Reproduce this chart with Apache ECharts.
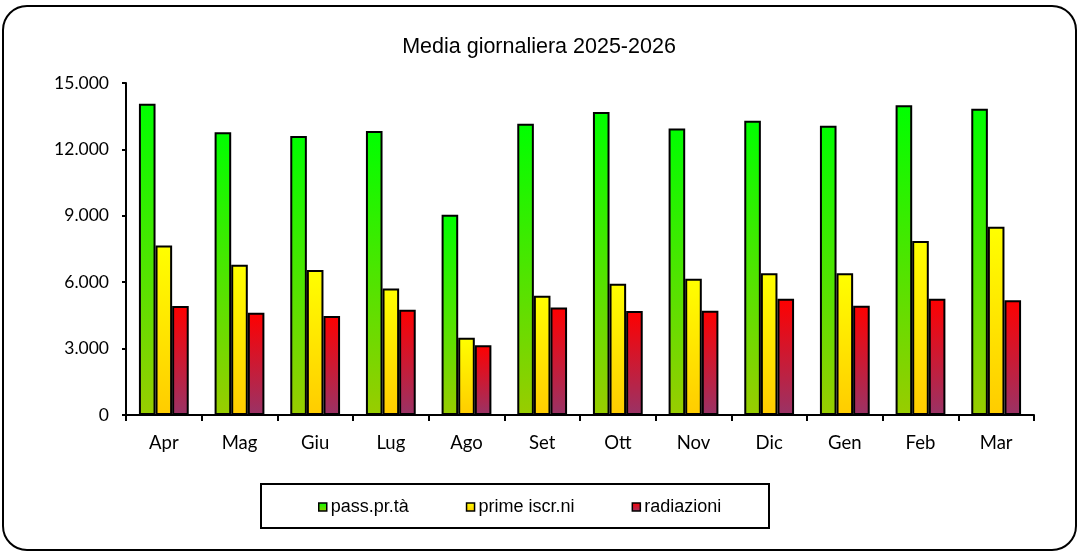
<!DOCTYPE html>
<html>
<head>
<meta charset="utf-8">
<script src="https://cdn.jsdelivr.net/npm/echarts@6/dist/echarts.min.js"></script>
<style>html,body{margin:0;padding:0;background:#fff}#c{width:1078px;height:553px}</style>
</head>
<body>
<div id="c"></div>
<script>
const categories = ['Apr','Mag','Giu','Lug','Ago','Set','Ott','Nov','Dic','Gen','Feb','Mar'];
const passPrTa = [14060,12770,12600,12830,9050,13160,13690,12940,13300,13070,14000,13840];
const primeIscrNi = [7660,6790,6550,5710,3490,5390,5930,6160,6410,6410,7860,8500];
const radiazioni = [4920,4620,4470,4760,3150,4860,4700,4710,5250,4940,5250,5180];
const yTicks = [0,3000,6000,9000,12000,15000];
const seriesNames = ['pass.pr.tà','prime iscr.ni','radiazioni'];

function grad(top, bottom){
  return new echarts.graphic.LinearGradient(0,0,0,1,[{offset:0,color:top},{offset:1,color:bottom}]);
}
const fills = [grad('#00FF00','#99CC00'), grad('#FFFF00','#FFCC00'), grad('#FF0000','#993366')];
const dataSets = [passPrTa, primeIscrNi, radiazioni];

const chart = echarts.init(document.getElementById('c'), null, {renderer:'canvas'});
chart.setOption({
  animation:false,
  backgroundColor:'#fff',
  title:{
    text:'Media giornaliera 2025-2026',
    left:'center', top:31,
    textStyle:{fontFamily:'Liberation Sans', fontSize:21.5, fontWeight:'normal', color:'#000'}
  },
  graphic:[
    {type:'rect', shape:{x:3,y:6,width:1073,height:544,r:24}, style:{fill:'none', stroke:'#000', lineWidth:2}, z:-1},
    {type:'rect', shape:{x:261,y:484,width:508,height:44}, style:{fill:'none', stroke:'#000', lineWidth:2}, z:-1}
  ],
  legend:{
    data:seriesNames,
    left:318, top:498,
    padding:0,
    itemWidth:8, itemHeight:8, itemGap:57,
    icon:'rect',
    textStyle:{fontFamily:'Liberation Sans', fontSize:18, color:'#000', padding:[0,0,0,-1]},
    itemStyle:{borderColor:'#000', borderWidth:1.5}
  },
  grid:{left:126, right:44, top:83, bottom:138, containLabel:false},
  xAxis:{
    type:'category', data:categories,
    axisLine:{lineStyle:{color:'#000', width:2}},
    axisTick:{show:true, length:6, lineStyle:{color:'#000', width:2}},
    axisLabel:{fontFamily:'Lato', fontSize:18.5, color:'#000', margin:19},
    splitLine:{show:false}
  },
  yAxis:{
    type:'value', min:yTicks[0], max:yTicks[yTicks.length-1], interval:3000,
    axisLine:{show:true, lineStyle:{color:'#000', width:2}},
    axisTick:{show:true, length:4, lineStyle:{color:'#000', width:2}},
    splitLine:{show:false},
    axisLabel:{fontFamily:'Lato', fontSize:17.5, color:'#000', margin:17,
      formatter:v=>String(v).replace(/\B(?=(\d{3})+(?!\d))/g,'.')}
  },
  series: seriesNames.map((n,i)=>({
    name:n, type:'bar', data:dataSets[i],
    barWidth:16.6, barGap:'0%',
    itemStyle:{color:fills[i], borderColor:'#000', borderWidth:2}
  }))
});
</script>
</body>
</html>
